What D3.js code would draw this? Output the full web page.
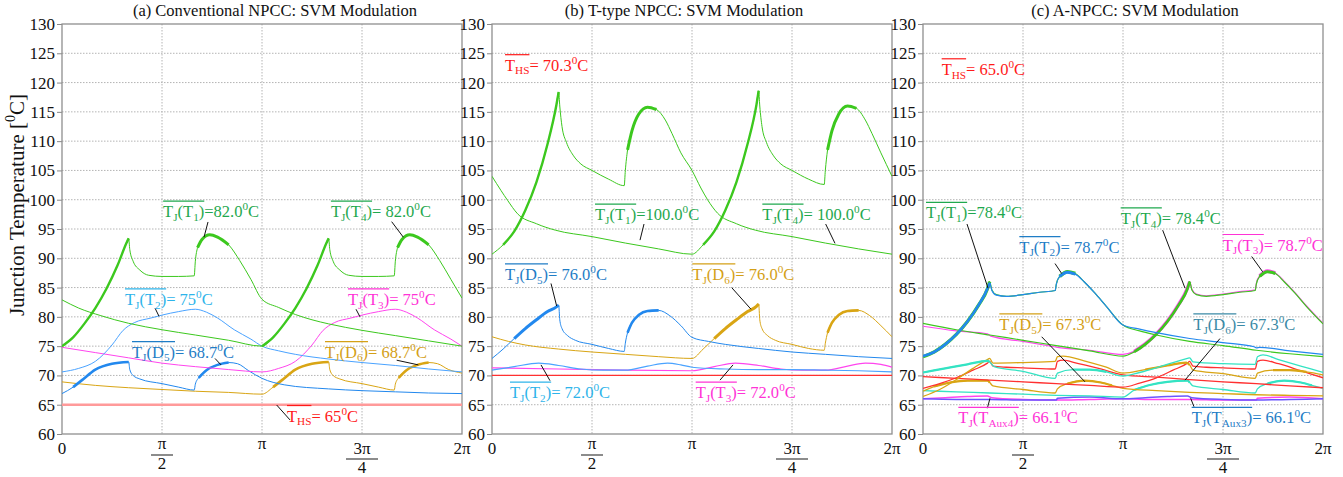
<!DOCTYPE html>
<html>
<head>
<meta charset="utf-8">
<script src="https://cdn.jsdelivr.net/npm/d3@7"></script>
<style>
  body { margin: 0; background: #fff; }
  svg text { font-family: "Liberation Serif", "DejaVu Serif", serif; }
</style>
</head>
<body>
<svg id="chart" width="1343" height="477"></svg>
<script>
/***********************************************************************************/
// Data (angle in degrees of the fundamental period, junction temperature in degC)

var xTickVals = [0, 90, 180, 270, 360];
var xTickLabels = [["0"], ["π", "2"], ["π"], ["3π", "4"], ["2π"]];
var yTickVals = [60, 65, 70, 75, 80, 85, 90, 95, 100, 105, 110, 115, 120, 125, 130];

// (a) Conventional NPCC
var aT1 = [[0,75.0],[10,76.5],[20,78.8],[30,81.5],[40,84.8],[50,88.8],[58,92.6],[60,93.4],[61,91.5],[64,89.5],[70,88.0],[78,87.1],[90,86.9],[105,86.9],[119,87.0],[120,89.5],[122,91.8],[126,93.2],[133,94.0],[140,93.6],[150,92.3],[160,89.6],[170,86.4],[180,83.0],[195,81.6],[210,80.4],[225,79.5],[240,78.8],[270,77.7],[300,76.8],[330,75.9],[360,75.0]];
var aT4 = [[0,82.9],[15,81.5],[35,80.2],[60,78.9],[90,77.8],[120,76.9],[150,76.0],[180,75.0],[190,76.5],[200,78.8],[210,81.5],[220,84.8],[230,88.8],[238,92.6],[240,93.4],[241,91.5],[244,89.5],[250,88.0],[258,87.1],[270,86.9],[285,86.9],[299,87.0],[300,89.5],[302,91.8],[306,93.2],[313,94.0],[320,93.6],[330,92.3],[340,89.6],[350,86.4],[360,83.2]];
var aT2 = [[0,70.6],[15,71.2],[30,72.4],[45,75.2],[55,77.7],[65,79.0],[80,79.8],[90,80.3],[105,80.9],[120,81.3],[130,80.8],[140,79.8],[155,77.8],[170,76.2],[180,75.0],[195,74.2],[210,73.6],[240,72.8],[270,72.2],[300,71.7],[330,71.1],[360,70.6]];
var aT3 = [[0,74.8],[30,73.9],[60,73.0],[90,72.1],[120,71.5],[150,71.0],[180,70.6],[195,71.2],[210,72.4],[225,75.2],[235,77.7],[245,79.0],[260,79.8],[270,80.3],[285,80.9],[300,81.3],[310,80.8],[320,79.8],[335,77.8],[350,76.2],[360,75.0]];
var aD5 = [[0,66.9],[10,68.0],[18,69.2],[30,71.0],[45,72.0],[60,72.3],[61,71.0],[64,70.0],[70,69.4],[90,68.6],[105,68.0],[119,67.5],[120,68.5],[123,69.6],[130,70.9],[140,71.8],[150,72.2],[158,72.0],[168,70.8],[180,69.5],[200,68.4],[240,67.7],[270,67.4],[300,67.2],[330,67.0],[360,66.9]];
var aD6 = [[0,68.9],[30,68.3],[60,67.9],[90,67.6],[120,67.3],[150,67.1],[180,66.8],[190,68.0],[198,69.2],[210,71.0],[225,72.0],[240,72.3],[241,71.0],[244,70.0],[250,69.4],[270,68.6],[285,68.0],[299,67.5],[300,68.5],[303,69.6],[310,70.9],[320,71.8],[330,72.2],[338,72.0],[348,71.0],[360,70.4]];
var aHS = [[0,65.0],[360,65.0]];

// (b) T-type NPCC
var bT1 = [[0,90.7],[10,92.3],[20,94.6],[30,98.2],[40,103.0],[50,109.5],[58,116.2],[60,118.4],[61,116.0],[63,112.5],[67,109.8],[73,107.6],[80,106.1],[90,105.0],[105,103.5],[119,102.4],[120,105.0],[122,108.5],[126,111.8],[132,114.6],[140,115.8],[148,115.4],[156,113.6],[162,111.3],[170,108.0],[180,105.0],[188,102.0],[194,100.0],[203,97.7],[220,95.9],[237,94.8],[270,93.7],[300,92.6],[330,91.6],[360,90.7]];
var bT4 = [[0,104.0],[8,101.6],[14,99.9],[23,97.6],[40,95.9],[57,94.8],[90,93.7],[120,92.6],[150,91.6],[180,90.7],[190,92.3],[200,94.6],[210,98.2],[220,103.0],[230,109.5],[238,116.2],[240,118.6],[241,116.0],[243,112.5],[247,109.8],[253,107.6],[260,106.1],[270,105.0],[285,103.5],[299,102.6],[300,105.0],[302,108.5],[306,111.8],[312,114.6],[320,116.0],[328,115.6],[336,113.6],[342,111.3],[350,108.0],[360,104.0]];
var bD5 = [[0,72.9],[10,74.5],[20,76.3],[30,78.0],[40,79.5],[50,80.9],[58,81.7],[60,82.0],[61,79.5],[63,78.0],[68,76.8],[75,76.0],[90,75.3],[105,74.6],[119,74.1],[120,75.5],[122,77.3],[126,79.0],[132,80.3],[140,81.0],[150,81.1],[160,80.2],[170,78.5],[180,76.5],[195,75.8],[210,75.3],[240,74.6],[270,74.0],[300,73.6],[330,73.2],[360,72.9]];
var bD6 = [[0,76.6],[15,75.8],[30,75.2],[60,74.5],[90,74.0],[120,73.6],[150,73.2],[180,72.9],[190,74.5],[200,76.3],[210,78.0],[220,79.5],[230,80.9],[238,81.8],[240,82.2],[241,79.5],[243,78.0],[248,76.8],[255,76.0],[270,75.3],[285,74.6],[299,74.3],[300,75.5],[302,77.3],[306,79.0],[312,80.3],[320,81.0],[330,81.1],[340,80.2],[350,78.5],[360,76.6]];
var bT2 = [[0,70.9],[20,71.5],[42,72.1],[60,71.7],[80,71.1],[100,70.9],[120,70.9],[140,71.6],[158,72.1],[170,71.8],[180,71.4],[210,71.1],[240,71.0],[270,71.0],[300,70.9],[330,70.8],[360,70.6]];
var bT3 = [[0,71.3],[60,71.1],[120,70.9],[180,70.8],[200,71.5],[219,72.1],[240,71.7],[260,71.1],[280,70.9],[300,70.9],[320,71.6],[336,72.1],[350,71.9],[360,71.4]];
var bHS = [[0,70.0],[360,70.0]];

// (c) A-NPCC
var cT1 = [[0,73.2],[10,74.0],[20,75.3],[30,77.0],[40,79.2],[50,82.0],[58,84.8],[60,86.0],[62,84.6],[66,83.8],[75,83.5],[90,83.8],[105,84.2],[119,84.5],[120,85.6],[123,86.9],[130,87.7],[137,87.4],[145,86.0],[155,84.0],[165,81.8],[180,78.6],[195,77.6],[210,76.9],[240,75.8],[270,75.1],[300,74.3],[330,73.7],[360,73.2]];
var cT2 = [[0,73.3],[10,74.0],[20,75.3],[30,77.0],[40,79.2],[50,82.0],[58,84.8],[60,85.8],[62,84.5],[66,83.7],[75,83.5],[90,83.8],[105,84.2],[119,84.5],[120,85.6],[123,86.9],[130,87.6],[137,87.3],[145,86.0],[155,84.0],[165,81.8],[180,78.6],[195,77.9],[210,77.3],[240,76.3],[270,75.6],[298,74.9],[300,74.7],[303,74.8],[330,74.2],[360,73.6]];
var cT4 = [[0,78.9],[30,77.8],[60,76.9],[90,76.0],[120,75.1],[150,74.2],[180,73.3],[190,74.0],[200,75.3],[210,77.0],[220,79.2],[230,82.0],[238,84.8],[240,86.0],[242,84.6],[246,83.8],[255,83.5],[270,83.8],[285,84.2],[299,84.5],[300,85.6],[303,86.9],[310,87.7],[317,87.4],[325,86.0],[335,84.0],[345,81.8],[360,78.8]];
var cT3 = [[0,78.4],[30,77.6],[58,77.1],[61,76.7],[90,75.8],[118,74.9],[121,74.8],[150,74.3],[180,73.6],[190,74.1],[200,75.4],[210,77.1],[220,79.3],[230,82.1],[238,84.9],[240,86.0],[242,84.7],[246,83.9],[255,83.6],[270,83.9],[285,84.3],[299,84.6],[300,85.7],[303,87.0],[310,87.8],[317,87.5],[325,86.1],[335,84.1],[345,81.9],[360,78.9]];
var cR1 = [[0,67.8],[15,68.6],[30,69.6],[45,70.9],[58,72.1],[60,72.4],[63,71.6],[75,71.4],[90,71.3],[119,71.1],[121,72.4],[126,72.6],[140,72.0],[160,71.1],[180,70.1],[210,69.7],[240,69.3],[270,68.9],[300,68.6],[330,68.2],[360,67.9]];
var cR2 = [[0,69.8],[30,69.5],[60,69.2],[90,68.9],[120,68.6],[150,68.3],[180,68.0],[195,68.7],[210,69.6],[225,70.9],[238,72.1],[240,72.4],[243,71.6],[255,71.4],[270,71.3],[299,71.1],[301,72.4],[306,72.6],[320,72.0],[340,70.8],[360,69.6]];
var cG1 = [[0,66.4],[15,67.6],[30,69.3],[45,71.2],[58,72.7],[60,72.9],[63,72.1],[90,72.2],[119,72.4],[121,73.2],[126,73.3],[145,72.5],[165,71.4],[180,70.4],[200,71.0],[220,71.7],[237,72.2],[240,71.8],[243,70.9],[270,70.3],[299,69.5],[301,70.4],[315,70.9],[330,70.9],[345,70.6],[360,70.1]];
var cQ1 = [[0,70.5],[20,71.2],[40,71.9],[58,72.5],[60,72.3],[64,71.5],[90,70.7],[119,69.5],[121,70.4],[135,71.0],[150,71.0],[165,70.6],[180,69.9],[195,70.5],[210,71.3],[225,72.2],[238,72.9],[240,73.0],[243,72.3],[270,72.0],[299,71.9],[301,73.2],[306,73.5],[320,72.7],[340,71.6],[360,70.5]];
var cD5 = [[0,67.3],[10,68.1],[25,68.8],[40,69.1],[58,69.1],[60,68.8],[63,68.2],[90,67.6],[119,67.0],[121,67.7],[130,68.6],[145,69.1],[160,68.8],[170,68.3],[180,67.8],[210,67.4],[240,67.1],[270,66.9],[300,66.7],[330,66.6],[360,66.5]];
var cD6 = [[0,67.4],[30,67.2],[60,67.0],[90,66.8],[120,66.6],[150,66.5],[180,66.3],[190,67.5],[205,68.4],[220,68.9],[238,69.1],[240,68.8],[243,68.2],[270,67.6],[299,67.0],[301,67.7],[310,68.6],[325,69.1],[340,68.8],[350,68.3],[360,67.8]];
var cAux4 = [[0,66.0],[20,66.2],[40,66.4],[58,66.5],[62,66.2],[90,65.9],[120,65.8],[150,65.9],[180,66.0],[210,65.9],[240,65.9],[270,65.8],[300,65.8],[301,66.1],[330,66.3],[360,66.0]];
var cAux3 = [[0,66.0],[30,65.9],[60,65.9],[90,65.8],[120,65.8],[121,66.1],[150,66.3],[180,66.0],[200,66.2],[220,66.4],[238,66.5],[242,66.2],[270,65.9],[300,65.8],[330,65.9],[360,66.0]];

/***********************************************************************************/
// Styles

var green = '#3cc81e', lblue = '#4aa3ff', blue = '#2288ee', magenta = '#ff45ee',
    gold = '#d9a514', red = '#ff3030', turq = '#34e3c3', pink = '#ff9a9a';
var tGreen = '#1fa84e', tCyan = '#2eb4ea', tBlue = '#1f7dc6', tMag = '#ff33d6',
    tGold = '#d4a017', tRed = '#ff1a1a', tTeal = '#3b8aa6';

var panels = [
  { left: 62, title: '(a) Conventional NPCC: SVM Modulation', titleX: 275,
    series: [
      { d: aHS, c: pink, w: 2.5 },
      { d: aD6, c: gold, w: 1, thick: [[185, 240, 2.6], [303, 335, 2.6]] },
      { d: aD5, c: blue, w: 1, thick: [[5, 60, 2.6], [123, 155, 2.6]] },
      { d: aT3, c: magenta, w: 1 },
      { d: aT2, c: lblue, w: 1 },
      { d: aT4, c: green, w: 1, thick: [[180, 240, 2.4], [302, 330, 3]] },
      { d: aT1, c: green, w: 1, thick: [[0, 60, 2.4], [122, 150, 3]] }
    ],
    labels: [
      { over: 'T_{J}(T_{1})', rest: '=82.0^{0}C', c: tGreen, at: [91, 97.0], lead: [131.4, 96.2, 127.8, 93.6] },
      { over: 'T_{J}(T_{4})', rest: '= 82.0^{0}C', c: tGreen, at: [242, 97.0], lead: [296.7, 96.25, 307.2, 93.6] },
      { over: 'T_{J}(T_{2})', rest: '= 75^{0}C', c: tCyan, at: [56.7, 82.0], lead: [83.7, 81.5, 87.3, 80.1] },
      { over: 'T_{J}(T_{3})', rest: '= 75^{0}C', c: tMag, at: [257.4, 82.0], lead: [264.6, 81.3, 268.2, 80.0] },
      { over: 'T_{J}(D_{5})', rest: '= 68.7^{0}C', c: tBlue, at: [63, 73.0], lead: [137.7, 72.9, 143.1, 71.8] },
      { over: 'T_{J}(D_{6})', rest: '= 68.7^{0}C', c: tGold, at: [236.7, 73.0], lead: [301.2, 72.6, 320.7, 71.8] },
      { over: 'T_{HS}', rest: '= 65^{0}C', c: tRed, at: [202.5, 62.1], lead: [193.2, 64.95, 205.2, 62.4] }
    ] },
  { left: 492, title: '(b) T-type NPCC: SVM Modulation', titleX: 684,
    series: [
      { d: bHS, c: red, w: 1.2 },
      { d: bT3, c: magenta, w: 1.2 },
      { d: bT2, c: lblue, w: 1.2 },
      { d: bD6, c: gold, w: 1, thick: [[200, 240, 3], [302, 335, 2.6]] },
      { d: bD5, c: blue, w: 1, thick: [[20, 60, 3], [122, 155, 2.6]] },
      { d: bT4, c: green, w: 1, thick: [[185, 240, 2.4], [302, 335, 3]] },
      { d: bT1, c: green, w: 1, thick: [[5, 60, 2.4], [122, 155, 3]] }
    ],
    labels: [
      { over: 'T_{HS}', rest: '= 70.3^{0}C', c: tRed, at: [11.7, 122.0] },
      { over: 'T_{J}(T_{1})', rest: '=100.0^{0}C', c: tGreen, at: [92.7, 96.5], lead: [136.8, 95.85, 133.2, 93.1] },
      { over: 'T_{J}(T_{4})', rest: '= 100.0^{0}C', c: tGreen, at: [243.3, 96.5], lead: [300.3, 95.85, 308.7, 92.55] },
      { over: 'T_{J}(D_{5})', rest: '= 76.0^{0}C', c: tBlue, at: [11.7, 86.3], lead: [53.1, 85.7, 58.2, 81.85] },
      { over: 'T_{J}(D_{6})', rest: '= 76.0^{0}C', c: tGold, at: [180.3, 86.3], lead: [215.7, 85.0, 233.1, 81.3] },
      { over: 'T_{J}(T_{2})', rest: '= 72.0^{0}C', c: tCyan, at: [16.2, 66.1], lead: [44.1, 71.8, 52.2, 69.1] },
      { over: 'T_{J}(T_{3})', rest: '= 72.0^{0}C', c: tMag, at: [183.3, 66.1], lead: [216.9, 71.8, 205.2, 69.2] }
    ] },
  { left: 923, title: '(c) A-NPCC: SVM Modulation', titleX: 1135,
    series: [
      { d: cAux4, c: magenta, w: 1.5 },
      { d: cAux3, c: '#6a55ff', w: 1.5 },
      { d: cD6, c: turq, w: 1.3, thick: [[185, 240, 2.2], [303, 350, 2.2]] },
      { d: cD5, c: gold, w: 1.3, thick: [[5, 60, 2.2], [123, 170, 2.2]] },
      { d: cR2, c: red, w: 1.3 },
      { d: cR1, c: red, w: 1.3 },
      { d: cG1, c: gold, w: 1.3, thick: [[185, 240, 2.2], [303, 350, 2.2]] },
      { d: cQ1, c: turq, w: 1.3, thick: [[0, 60, 2.2], [123, 170, 2.2]] },
      { d: cT3, c: magenta, w: 1.2, thick: [[185, 240, 3.4], [302, 320, 3.6]] },
      { d: cT4, c: green, w: 1.2, thick: [[185, 240, 2.6], [302, 320, 3]] },
      { d: cT1, c: green, w: 1.2, thick: [[0, 60, 3.4], [122, 140, 3.6]] },
      { d: cT2, c: blue, w: 1.2, thick: [[0, 60, 2.6], [122, 140, 3]] }
    ],
    labels: [
      { over: 'T_{HS}', rest: '= 65.0^{0}C', c: tRed, at: [16.8, 121.3] },
      { over: 'T_{J}(T_{1})', rest: '=78.4^{0}C', c: tGreen, at: [2.7, 96.8], lead: [39.6, 95.85, 58.5, 84.9] },
      { over: 'T_{J}(T_{4})', rest: '= 78.4^{0}C', c: tGreen, at: [177.9, 95.85], lead: [215.7, 94.8, 235.8, 84.9] },
      { over: 'T_{J}(T_{2})', rest: '= 78.7^{0}C', c: tBlue, at: [86.7, 90.95], lead: [118.8, 89.1, 124.8, 87.4] },
      { over: 'T_{J}(T_{3})', rest: '= 78.7^{0}C', c: tMag, at: [269.7, 91.3], lead: [295.8, 90.3, 305.7, 87.7] },
      { over: 'T_{J}(D_{5})', rest: '= 67.3^{0}C', c: tGold, at: [68.7, 77.75], lead: [106.8, 76.6, 145.8, 68.9] },
      { over: 'T_{J}(D_{6})', rest: '= 67.3^{0}C', c: tTeal, at: [243.3, 77.75], lead: [267.3, 76.3, 235.8, 69.2] },
      { over: 'T_{J}(T_{Aux4})', rest: '= 66.1^{0}C', c: tMag, at: [31.8, 61.8], lead: [60.3, 66.1, 57.9, 64.4] },
      { over: 'T_{J}(T_{Aux3})', rest: '= 66.1^{0}C', c: tBlue, at: [241.8, 61.8], lead: [240.9, 66.1, 243.9, 64.65] }
    ] }
];

/***********************************************************************************/
// Setup

var svg = d3.select('#chart');
var plotW = 400, plotTop = 24, plotBottom = 434;
var y = d3.scaleLinear().domain([60, 130]).range([plotBottom, plotTop]);
var labelSize = 16.5;

// Write "a_{sub}" / "a^{sup}" strings as tspans
function rich(textSel, str, size){
  var parts = str.split(/(_\{[^}]*\}|\^\{[^}]*\})/).filter(function(p){ return p.length; });
  var shift = 0;
  parts.forEach(function(p){
    var type = 'n', t = p;
    if (p[0] === '_' && p[1] === '{') { type = 'sub'; t = p.slice(2, -1); }
    if (p[0] === '^' && p[1] === '{') { type = 'sup'; t = p.slice(2, -1); }
    var target = type === 'sub' ? 0.22 * size : type === 'sup' ? -0.42 * size : 0;
    textSel.append('tspan')
      .attr('dy', target - shift)
      .attr('font-size', type === 'n' ? size : size * 0.68)
      .text(t);
    shift = target;
  });
}

panels.forEach(function(p){
  var x = d3.scaleLinear().domain([0, 360]).range([p.left, p.left + plotW]);
  var g = svg.append('g');

  // grid
  g.selectAll('.hgrid').data(yTickVals.slice(1, -1)).join('line')
    .attr('x1', p.left).attr('x2', p.left + plotW)
    .attr('y1', function(d){ return y(d); }).attr('y2', function(d){ return y(d); })
    .attr('stroke', '#b4b4b4').attr('stroke-width', 1).attr('stroke-dasharray', '1.5,1.5');
  g.selectAll('.vgrid').data(xTickVals.slice(1, -1)).join('line')
    .attr('y1', plotTop).attr('y2', plotBottom)
    .attr('x1', function(d){ return x(d); }).attr('x2', function(d){ return x(d); })
    .attr('stroke', '#b4b4b4').attr('stroke-width', 1).attr('stroke-dasharray', '1.5,1.5');

  // y axis
  var yAxis = g.append('g').attr('transform', 'translate(' + p.left + ',0)')
    .call(d3.axisLeft(y).tickValues(yTickVals).tickSize(5).tickPadding(2).tickFormat(d3.format('d')));
  yAxis.select('.domain').remove();
  yAxis.selectAll('line').attr('stroke', '#888');
  yAxis.selectAll('text').attr('font-size', 17).attr('fill', '#111')
    .attr('font-family', '"Liberation Serif", serif');

  // frame
  g.append('rect').attr('x', p.left).attr('y', plotTop).attr('width', plotW).attr('height', plotBottom - plotTop)
    .attr('fill', 'none').attr('stroke', '#8f8f8f').attr('stroke-width', 1.3);

  // x tick labels (fractions)
  xTickVals.forEach(function(v, i){
    var lab = xTickLabels[i], cx = x(v);
    if (lab.length === 1) {
      g.append('text').attr('x', cx).attr('y', lab[0] === 'π' ? 449 : 454)
        .attr('text-anchor', 'middle').attr('font-size', 17).attr('fill', '#111').text(lab[0]);
    } else {
      var wide = lab[0].length > 1;
      var y0 = wide ? 454 : 449, yb = wide ? 459 : 455, y1 = wide ? 473 : 469;
      var hw = wide ? 16 : 11;
      g.append('text').attr('x', cx).attr('y', y0).attr('text-anchor', 'middle')
        .attr('font-size', 17).attr('fill', '#111').text(lab[0]);
      g.append('line').attr('x1', cx - hw).attr('x2', cx + hw).attr('y1', yb).attr('y2', yb)
        .attr('stroke', '#666').attr('stroke-width', 1.5);
      g.append('text').attr('x', cx).attr('y', y1).attr('text-anchor', 'middle')
        .attr('font-size', 17).attr('fill', '#111').text(lab[1]);
    }
  });

  // title
  svg.append('text').attr('x', p.titleX).attr('y', 16).attr('text-anchor', 'middle')
    .attr('font-size', 16.5).attr('fill', '#111').text(p.title);

  // curves
  var line = d3.line().x(function(d){ return x(d[0]); }).y(function(d){ return y(d[1]); })
    .curve(d3.curveMonotoneX);
  var clipId = 'clip' + p.left;
  svg.append('clipPath').attr('id', clipId).append('rect')
    .attr('x', p.left).attr('y', plotTop).attr('width', plotW).attr('height', plotBottom - plotTop);
  var cg = g.append('g').attr('clip-path', 'url(#' + clipId + ')');
  p.series.forEach(function(s){
    cg.append('path').attr('d', line(s.d)).attr('fill', 'none')
      .attr('stroke', s.c).attr('stroke-width', s.w).attr('stroke-linejoin', 'round');
    (s.thick || []).forEach(function(t){
      var seg = s.d.filter(function(d){ return d[0] >= t[0] && d[0] <= t[1]; });
      cg.append('path').attr('d', line(seg)).attr('fill', 'none')
        .attr('stroke', s.c).attr('stroke-width', t[2]).attr('stroke-linecap', 'butt');
    });
  });

  // labels with overline and leader lines
  p.labels.forEach(function(l){
    if (l.lead) {
      g.append('line')
        .attr('x1', x(l.lead[0])).attr('y1', y(l.lead[1]))
        .attr('x2', x(l.lead[2])).attr('y2', y(l.lead[3]))
        .attr('stroke', '#111').attr('stroke-width', 1);
    }
    var lx = x(l.at[0]), ly = y(l.at[1]);
    var t1 = g.append('text').attr('x', lx).attr('y', ly).attr('fill', l.c).attr('font-size', labelSize);
    rich(t1, l.over, labelSize);
    var w = t1.node().getComputedTextLength();
    g.append('line').attr('x1', lx).attr('x2', lx + w)
      .attr('y1', ly - labelSize * 0.98).attr('y2', ly - labelSize * 0.98)
      .attr('stroke', l.c).attr('stroke-width', 1.2);
    var t2 = g.append('text').attr('x', lx + w).attr('y', ly).attr('fill', l.c).attr('font-size', labelSize);
    rich(t2, l.rest, labelSize);
  });
});

// y axis title
svg.append('text')
  .attr('transform', 'translate(24,205) rotate(-90)')
  .attr('text-anchor', 'middle').attr('font-size', 21).attr('fill', '#111')
  .call(function(t){ rich(t, 'Junction Temperature [^{0}C]', 21); });
</script>
</body>
</html>
